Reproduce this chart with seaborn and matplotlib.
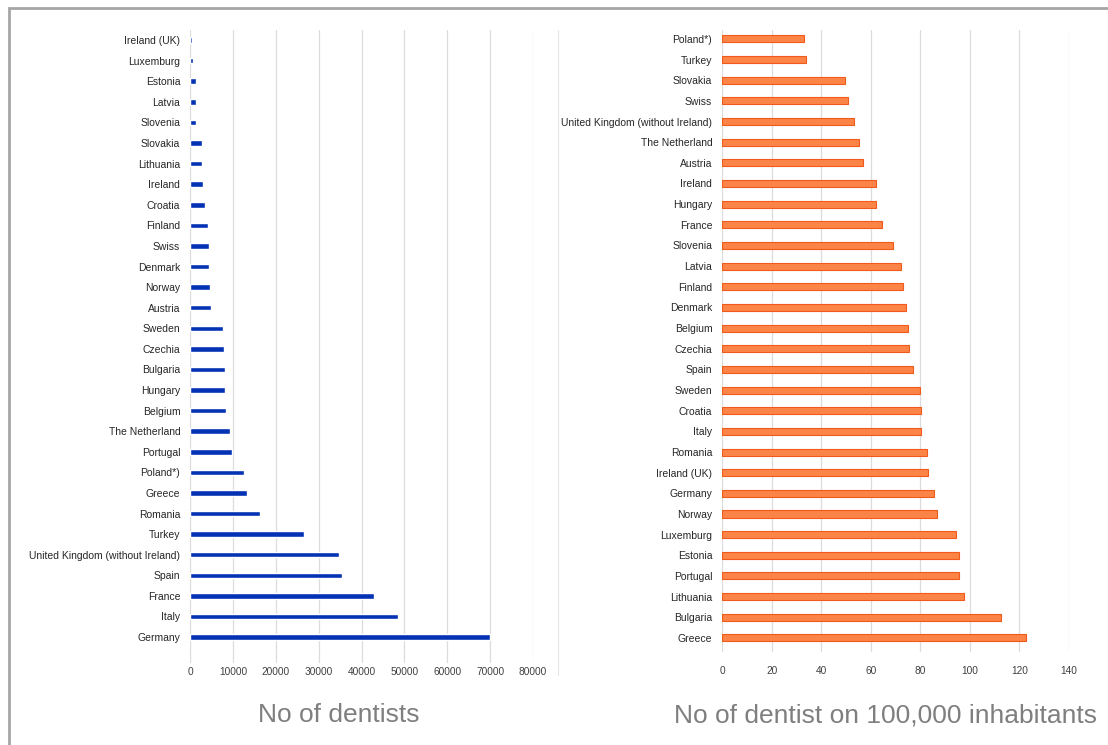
import numpy as np
import pandas as pd
import matplotlib
matplotlib.use('Agg')
import matplotlib.pyplot as plt
import seaborn as sns
from matplotlib.patches import Rectangle
from matplotlib.lines import Line2D

# data
left_countries = ['Ireland (UK)', 'Luxemburg', 'Estonia', 'Latvia', 'Slovenia', 'Slovakia',
                  'Lithuania', 'Ireland', 'Croatia', 'Finland', 'Swiss', 'Denmark', 'Norway',
                  'Austria', 'Sweden', 'Czechia', 'Bulgaria', 'Hungary', 'Belgium',
                  'The Netherland', 'Portugal', 'Poland*)', 'Greece', 'Romania', 'Turkey',
                  'United Kingdom (without Ireland)', 'Spain', 'France', 'Italy', 'Germany']
left_values = [350, 600, 1300, 1450, 1450, 2750, 2900, 3000, 3400, 4100, 4350, 4350, 4600,
               4900, 7750, 7900, 8100, 8100, 8500, 9400, 9900, 12500, 13300, 16250, 26600,
               34700, 35500, 42800, 48500, 70000]

right_countries = ['Poland*)', 'Turkey', 'Slovakia', 'Swiss', 'United Kingdom (without Ireland)',
                   'The Netherland', 'Austria', 'Ireland', 'Hungary', 'France', 'Slovenia',
                   'Latvia', 'Finland', 'Denmark', 'Belgium', 'Czechia', 'Spain', 'Sweden',
                   'Croatia', 'Italy', 'Romania', 'Ireland (UK)', 'Germany', 'Norway',
                   'Luxemburg', 'Estonia', 'Portugal', 'Lithuania', 'Bulgaria', 'Greece']
right_values = [33.2, 33.9, 49.7, 50.9, 53.2, 55.2, 56.7, 62.1, 62.1, 64.5, 69.0, 72.1, 73.2,
                74.2, 75.0, 75.6, 77.0, 79.8, 80.4, 80.4, 82.8, 83.0, 85.7, 86.8, 94.4, 95.6,
                95.8, 97.5, 112.6, 122.7]

left_ticks = [0, 10000, 20000, 30000, 40000, 50000, 60000, 70000, 80000]
right_ticks = [0, 20, 40, 60, 80, 100, 120, 140]

left_title = 'No of dentists'
right_title = 'No of dentist on 100,000 inhabitants'

sns.set_theme(style='white')
plt.rcParams['font.family'] = ['Liberation Sans', 'DejaVu Sans']

W, H = 1108, 745
fig = plt.figure(figsize=(W / 100, H / 100), dpi=100)


def px_axes(x0, x1, y0, y1):
    # pixel box (from top-left) -> figure axes
    return fig.add_axes([x0 / W, 1 - y1 / H, (x1 - x0) / W, (y1 - y0) / H])


df_left = pd.DataFrame({'country': left_countries, 'value': left_values})
df_right = pd.DataFrame({'country': right_countries, 'value': right_values})

ax1 = px_axes(190, 533, 30, 663)
sns.barplot(data=df_left, x='value', y='country', orient='h', color='#0432B4',
            width=0.27, saturation=1, ax=ax1)
ax1.set_xlim(0, 80000)
ax1.set_ylim(30.26, -0.49)
ax1.set_xticks(left_ticks)
ax1.set_xticklabels([str(t) for t in left_ticks])

ax2 = px_axes(722, 1069, 30, 652)
sns.barplot(data=df_right, x='value', y='country', orient='h', color='#FD8447',
            edgecolor='#F05A1A', linewidth=0.8, width=0.34, saturation=1, ax=ax2)
ax2.set_xlim(0, 140)
ax2.set_ylim(29.68, -0.43)
ax2.set_xticks(right_ticks)
ax2.set_xticklabels([str(t) for t in right_ticks])

for ax, pad in [(ax1, 3), (ax2, 10)]:
    ax.set_xlabel('')
    ax.set_ylabel('')
    for s in ax.spines.values():
        s.set_visible(False)
    ax.grid(axis='x', color='#DCDCDC', linewidth=0.9)
    ax.grid(axis='y', visible=False)
    ax.set_axisbelow(True)
    ax.tick_params(axis='y', length=0, pad=7, labelsize=7.5, labelcolor='#262626')
    ax.tick_params(axis='x', length=0, pad=pad, labelsize=7.3, labelcolor='#404040')
    ax.patch.set_alpha(0)

fig.text(339 / W, 1 - 715 / H, left_title, ha='center', va='center',
         fontsize=19, color='#7F7F7F')
fig.text(885 / W, 1 - 715 / H, right_title, ha='center', va='center',
         fontsize=19, color='#7F7F7F')

# outer frame and separator of the original screenshot
fig.add_artist(Rectangle((9 / W, -0.05), 1.1, 1 - 8 / H + 0.05, transform=fig.transFigure,
                         fill=False, edgecolor='#A6A6A6', linewidth=2))
fig.add_artist(Line2D([558 / W, 558 / W], [1 - 30 / H, 1 - 675 / H], transform=fig.transFigure,
                      color='#E6E6E6', linewidth=0.8))

fig.savefig('out.png', dpi=100)
